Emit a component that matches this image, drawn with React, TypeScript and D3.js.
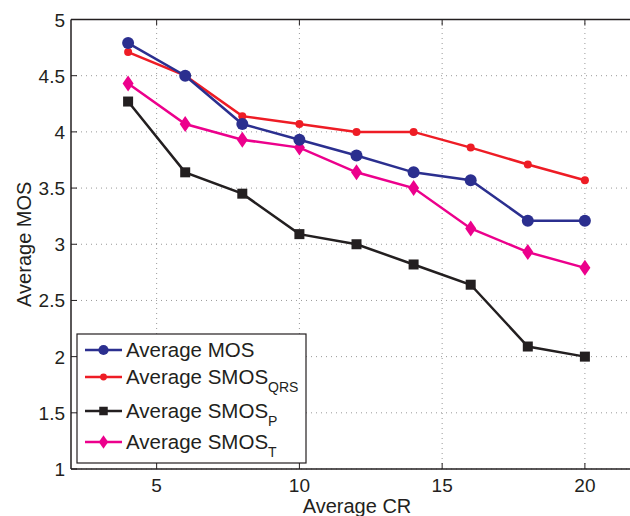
import React, { useRef, useEffect } from 'react';
import * as d3 from 'd3';

const crValues = [4, 6, 8, 10, 12, 14, 16, 18, 20];
const mos = [4.79, 4.5, 4.07, 3.93, 3.79, 3.64, 3.57, 3.21, 3.21];
const smosQrs = [4.71, 4.5, 4.14, 4.07, 4.0, 4.0, 3.86, 3.71, 3.57];
const smosP = [4.27, 3.64, 3.45, 3.09, 3.0, 2.82, 2.64, 2.09, 2.0];
const smosT = [4.43, 4.07, 3.93, 3.86, 3.64, 3.5, 3.14, 2.93, 2.79];
const xTicks = [5, 10, 15, 20];
const yTicks = [1, 1.5, 2, 2.5, 3, 3.5, 4, 4.5, 5];

const seriesList = [
  { name: 'Average MOS', sub: '', values: mos, color: '#2b2f8f', marker: 'bigCircle' },
  { name: 'Average SMOS', sub: 'QRS', values: smosQrs, color: '#ee1c25', marker: 'circle' },
  { name: 'Average SMOS', sub: 'P', values: smosP, color: '#231f20', marker: 'square' },
  { name: 'Average SMOS', sub: 'T', values: smosT, color: '#ec008c', marker: 'diamond' },
];

const W = 630;
const H = 516;
const font = 'Liberation Sans, Arial, sans-serif';

export default function App() {
  const ref = useRef<SVGSVGElement>(null);

  useEffect(() => {
    const svg = d3.select(ref.current);
    svg.selectAll('*').remove();

    const x = d3.scaleLinear().domain([2, 22]).range([71, 642]);
    const y = d3.scaleLinear().domain([1, 5]).range([469, 19.5]);

    const [x0, x1] = x.range();
    const [y0, y1] = y.range();

    // grid
    const grid = svg.append('g').attr('stroke', '#999').attr('stroke-width', 1).attr('stroke-dasharray', '1,4');
    xTicks.forEach((t) => {
      grid.append('line').attr('x1', x(t)).attr('x2', x(t)).attr('y1', y0).attr('y2', y1);
    });
    yTicks.forEach((t) => {
      grid.append('line').attr('x1', x0).attr('x2', x1).attr('y1', y(t)).attr('y2', y(t));
    });

    // axes frame
    const ax = svg.append('g').attr('stroke', '#231f20').attr('stroke-width', 1.5);
    ax.append('line').attr('x1', x0).attr('x2', x1).attr('y1', y0).attr('y2', y0);
    ax.append('line').attr('x1', x0).attr('x2', x1).attr('y1', y1).attr('y2', y1);
    ax.append('line').attr('x1', x0).attr('x2', x0).attr('y1', y0).attr('y2', y1);
    xTicks.forEach((t) => {
      ax.append('line').attr('x1', x(t)).attr('x2', x(t)).attr('y1', y0).attr('y2', y0 - 6).attr('stroke-width', 1);
      ax.append('line').attr('x1', x(t)).attr('x2', x(t)).attr('y1', y1).attr('y2', y1 + 6).attr('stroke-width', 1);
    });
    yTicks.forEach((t) => {
      ax.append('line').attr('x1', x0).attr('x2', x0 + 6).attr('y1', y(t)).attr('y2', y(t)).attr('stroke-width', 1);
    });

    const labels = svg.append('g').attr('font-family', font).attr('font-size', 19).attr('fill', '#231f20');
    xTicks.forEach((t) => {
      labels.append('text').attr('x', x(t)).attr('y', y0 + 23).attr('text-anchor', 'middle').text(t);
    });
    yTicks.forEach((t) => {
      labels.append('text').attr('x', x0 - 6).attr('y', y(t) + 7).attr('text-anchor', 'end').text(t);
    });
    labels.append('text').attr('x', 357).attr('y', 513).attr('font-size', 20).attr('text-anchor', 'middle').text('Average CR');
    labels
      .append('text')
      .attr('transform', `translate(31,${(y0 + y1) / 2}) rotate(-90)`)
      .attr('font-size', 20)
      .attr('text-anchor', 'middle')
      .text('Average MOS');

    const drawMarker = (g: any, kind: string, cx: number, cy: number, color: string, s: number) => {
      if (kind === 'bigCircle') g.append('circle').attr('cx', cx).attr('cy', cy).attr('r', 6 * s).attr('fill', color);
      else if (kind === 'circle') g.append('circle').attr('cx', cx).attr('cy', cy).attr('r', 4 * s).attr('fill', color);
      else if (kind === 'square')
        g.append('rect').attr('x', cx - 5 * s).attr('y', cy - 5 * s).attr('width', 10 * s).attr('height', 10 * s).attr('fill', color);
      else
        g.append('path')
          .attr('d', `M${cx},${cy - 8 * s}L${cx + 5.5 * s},${cy}L${cx},${cy + 8 * s}L${cx - 5.5 * s},${cy}Z`)
          .attr('fill', color);
    };

    const line = d3
      .line<number>()
      .x((_, i) => x(crValues[i]))
      .y((d) => y(d));

    // draw in order so blue sits on top like reference
    [2, 3, 1, 0].forEach((si) => {
      const s = seriesList[si];
      const g = svg.append('g');
      g.append('path').attr('d', line(s.values)).attr('fill', 'none').attr('stroke', s.color).attr('stroke-width', 2.5);
      s.values.forEach((v, i) => drawMarker(g, s.marker, x(crValues[i]), y(v), s.color, 1));
    });

    // legend
    const lg = svg.append('g');
    lg.append('rect').attr('x', 77).attr('y', 334).attr('width', 229).attr('height', 129).attr('fill', '#fff').attr('stroke', '#231f20').attr('stroke-width', 1.2);
    const rowY = [350, 377, 411, 442];
    seriesList.forEach((s, i) => {
      const cy = rowY[i];
      lg.append('line').attr('x1', 85).attr('x2', 122).attr('y1', cy).attr('y2', cy).attr('stroke', s.color).attr('stroke-width', 2.5);
      drawMarker(lg, s.marker, 103.5, cy, s.color, 0.85);
      const t = lg.append('text').attr('x', 126).attr('y', cy + 7).attr('font-family', font).attr('font-size', 20.5).attr('fill', '#231f20');
      t.append('tspan').text(s.name);
      if (s.sub) t.append('tspan').attr('font-size', 14).attr('dy', 8).text(s.sub);
    });
  }, []);

  return (
    <svg
      ref={ref}
      width={W}
      height={H}
      style={{ position: 'absolute', left: 0, top: 0, background: '#fff' }}
    />
  );
}
